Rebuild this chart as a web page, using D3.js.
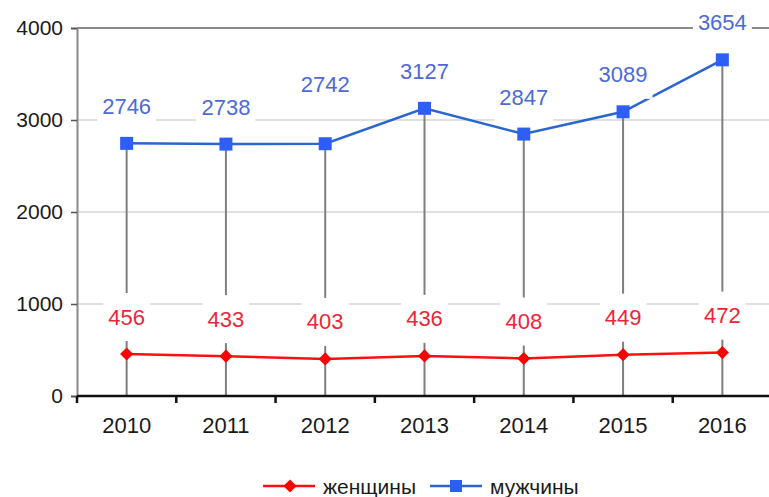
<!DOCTYPE html>
<html><head><meta charset="utf-8">
<script src="https://cdn.jsdelivr.net/npm/d3@7/dist/d3.min.js"></script>
<style>
html,body{margin:0;padding:0;background:#fff;}
svg{display:block;font-family:"Liberation Sans",Arial,sans-serif;}
</style></head>
<body>
<svg id="chart" width="769" height="497"></svg>
<script>
const years = ["2010","2011","2012","2013","2014","2015","2016"];
const women = [456,433,403,436,408,449,472];
const men = [2746,2738,2742,3127,2847,3089,3654];
const yTicks = [0,1000,2000,3000,4000];
const seriesNames = ["женщины","мужчины"];

// layout (not data)
const menLabelShift = [0,0,-22,0,0,0,0];

const svg = d3.select("#chart");
const x = d3.scaleBand().domain(years).range([77,772]).padding(0);
const y = d3.scaleLinear().domain([0,4000]).range([396,28]);
const cx = d => x(d) + x.bandwidth()/2;

const blueLine = "#2a66cc", blueMark = "#2d5ef5", blueText = "#4d6ad6";
const redLine = "#ff1010", redMark = "#ff0000", redText = "#e8283a";

// gridlines
svg.append("g").selectAll("line").data(yTicks.filter(t=>t>0&&t<4000)).join("line")
  .attr("x1",77).attr("x2",772).attr("y1",d=>y(d)).attr("y2",d=>y(d))
  .attr("stroke","#d6d6d6").attr("stroke-width",1.5);
// top line
svg.append("line").attr("x1",77).attr("x2",772).attr("y1",y(4000)).attr("y2",y(4000))
  .attr("stroke","#8a8a8a").attr("stroke-width",2);

// y axis
const yAxis = d3.axisLeft(y).tickValues(yTicks).tickSize(6).tickPadding(8).tickFormat(d3.format("d"));
const gy = svg.append("g").attr("transform","translate(77,0)").call(yAxis);
gy.select(".domain").attr("stroke","#8a8a8a").attr("stroke-width",2);
gy.selectAll(".tick line").attr("stroke","#555").attr("stroke-width",1.5);
gy.selectAll(".tick text").attr("font-size",21).attr("fill","#1a1a1a").attr("font-family","Liberation Sans, Arial, sans-serif");

// drop lines
svg.append("g").selectAll("line").data(years).join("line")
  .attr("x1",d=>cx(d)).attr("x2",d=>cx(d))
  .attr("y1",(d,i)=>y(men[i])).attr("y2",y(0))
  .attr("stroke","#7f7f7f").attr("stroke-width",2);

// lines
const lineGen = arr => d3.line().x((d,i)=>cx(years[i])).y(d=>y(d))(arr);
svg.append("path").attr("d",lineGen(men)).attr("fill","none").attr("stroke",blueLine).attr("stroke-width",2.5);
svg.append("path").attr("d",lineGen(women)).attr("fill","none").attr("stroke",redLine).attr("stroke-width",2.5);

// markers
svg.append("g").selectAll("rect").data(men).join("rect")
  .attr("x",(d,i)=>cx(years[i])-6.5).attr("y",d=>y(d)-6.5)
  .attr("width",13).attr("height",13).attr("fill",blueMark);
const diamond = d3.symbol().type(d3.symbolDiamond2).size(110);
svg.append("g").selectAll("path").data(women).join("path")
  .attr("d",diamond).attr("transform",(d,i)=>`translate(${cx(years[i])},${y(d)})`)
  .attr("fill",redMark);

// x axis
const xAxis = d3.axisBottom(x).tickSize(0).tickPadding(0);
const gx = svg.append("g").attr("transform",`translate(0,${y(0)})`).call(xAxis);
gx.select(".domain").remove();
svg.append("line").attr("x1",77).attr("x2",772).attr("y1",y(0)).attr("y2",y(0))
  .attr("stroke","#111").attr("stroke-width",2.5);
svg.append("g").selectAll("line").data(d3.range(years.length+1)).join("line")
  .attr("x1",i=>77+i*x.bandwidth()).attr("x2",i=>77+i*x.bandwidth())
  .attr("y1",y(0)).attr("y2",y(0)+7).attr("stroke","#111").attr("stroke-width",2.5);
gx.selectAll(".tick text").attr("font-size",22).attr("fill","#1a1a1a")
  .attr("dy",null).attr("y",31).attr("dominant-baseline","middle")
  .attr("font-family","Liberation Sans, Arial, sans-serif");

// data labels
function labels(arr, color, shift){
  const g = svg.append("g");
  arr.forEach((v,i)=>{
    const px = cx(years[i]);
    const py = y(v) - 37 + (shift ? shift[i] : 0);
    const t = g.append("text").attr("x",px).attr("y",py)
      .attr("text-anchor","middle").attr("dominant-baseline","central")
      .attr("font-size",22).attr("fill",color).text(v);
    const bb = t.node().getBBox();
    g.insert("rect","text").attr("x",bb.x-5).attr("y",py-24)
      .attr("width",bb.width+10).attr("height",48).attr("fill","#fff");
  });
}
labels(men, blueText, menLabelShift);
labels(women, redText, null);

// legend
const lg = svg.append("g").attr("transform","translate(0,486)");
const items = [
  {name:seriesNames[0], line:redLine, mark:"diamond", fill:redMark, x0:263},
  {name:seriesNames[1], line:blueLine, mark:"square", fill:blueMark, x0:430}
];
items.forEach(it=>{
  lg.append("line").attr("x1",it.x0).attr("x2",it.x0+52).attr("y1",0).attr("y2",0)
    .attr("stroke",it.line).attr("stroke-width",2.5);
  if(it.mark==="diamond"){
    lg.append("path").attr("d",diamond).attr("transform",`translate(${it.x0+27},0)`).attr("fill",it.fill);
  } else {
    lg.append("rect").attr("x",it.x0+26-6).attr("y",-6).attr("width",12).attr("height",12).attr("fill",it.fill);
  }
  lg.append("text").attr("x",it.x0+60).attr("y",0).attr("dominant-baseline","central")
    .attr("font-size",21).attr("fill","#1a1a1a").text(it.name);
});
</script>
</body></html>
